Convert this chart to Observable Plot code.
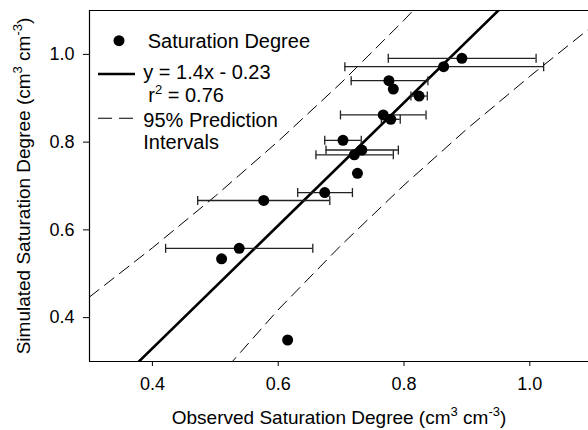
<!DOCTYPE html>
<html><head><meta charset="utf-8">
<script src="https://cdn.jsdelivr.net/npm/d3@7"></script>
<script src="https://cdn.jsdelivr.net/npm/@observablehq/plot@0.6"></script>
<style>
body{margin:0;background:#fff}
svg{font-family:"Liberation Sans",Arial,Helvetica,sans-serif}
</style>
</head><body><div id="chart"></div>
<script>
// Observed (x) and simulated (y) saturation degree
const observed  = [0.892,0.863,0.776,0.783,0.824,0.767,0.779,0.703,0.733,0.721,0.726,0.674,0.577,0.538,0.510,0.615];
const simulated = [0.991,0.972,0.940,0.921,0.905,0.862,0.852,0.804,0.782,0.771,0.729,0.685,0.667,0.558,0.534,0.349];
// horizontal error bar extents (null = no bar)
const errLow  = [0.775,0.706,0.716,null,0.811,0.699,0.764,0.674,0.676,0.660,null,0.631,0.472,0.421,null,null];
const errHigh = [1.010,1.022,0.838,null,0.837,0.835,0.794,0.732,0.791,0.783,null,0.718,0.682,0.655,null,null];
// fitted line y = 1.4x - 0.23
const fitX = [0.30, 1.10];
const fitY = [0.19, 1.31];
// 95% prediction interval curves
const upperX = [0.30, 0.40, 0.50, 0.60, 0.70, 0.80, 0.90];
const upperY = [0.447,0.559,0.677,0.802,0.935,1.078,1.23];
const lowerX = [0.50, 0.60, 0.70, 0.80, 0.90, 1.00, 1.10];
const lowerY = [0.256,0.418,0.565,0.702,0.830,0.950,1.065];
const xTicks = [0.4, 0.6, 0.8, 1.0];
const yTicks = [0.4, 0.6, 0.8, 1.0];
const legendLabels = ["Saturation Degree", "y = 1.4x - 0.23", "r", "2", " = 0.76", "95% Prediction", "Intervals"];

const points = observed.map((x, i) => ({x, y: simulated[i], lo: errLow[i], hi: errHigh[i]}));
const bars = points.filter(d => d.lo != null);
const caps = bars.flatMap(d => [{x: d.lo, y: d.y}, {x: d.hi, y: d.y}]);
const fit = fitX.map((x, i) => ({x, y: fitY[i]}));
const upper = upperX.map((x, i) => ({x, y: upperY[i]}));
const lower = lowerX.map((x, i) => ({x, y: lowerY[i]}));

const capSymbol = {draw(ctx, size) { const h = Math.sqrt(size / Math.PI); ctx.moveTo(0, -h); ctx.lineTo(0, h); }};
const fmt = d3.format(".1f");

const chart = Plot.plot({
  width: 588, height: 430,
  marginLeft: 89, marginRight: 0, marginTop: 10, marginBottom: 69,
  style: {fontFamily: '"Liberation Sans",Arial,sans-serif', background: "white"},
  x: {domain: [0.3, 1.0933]},
  y: {domain: [0.3, 1.1]},
  marks: [
    Plot.line(upper, {x: "x", y: "y", stroke: "black", strokeWidth: 1, strokeDasharray: "12,7", clip: true}),
    Plot.line(lower, {x: "x", y: "y", stroke: "black", strokeWidth: 1, strokeDasharray: "12,7", clip: true}),
    Plot.line(fit, {x: "x", y: "y", stroke: "black", strokeWidth: 2.6, clip: true}),
    Plot.ruleY(bars, {x1: "lo", x2: "hi", y: "y", stroke: "#222", strokeWidth: 1.3}),
    Plot.dot(caps, {x: "x", y: "y", symbol: capSymbol, r: 4.5, fill: "none", stroke: "#222", strokeWidth: 1.3}),
    Plot.dot(points, {x: "x", y: "y", r: 5.5, fill: "black", stroke: "none"}),
    Plot.ruleX([0.3], {stroke: "black", strokeWidth: 1.2}),
    Plot.ruleY([0.3, 1.1], {stroke: "black", strokeWidth: 1.2}),
    Plot.axisX(xTicks, {tickSize: 5, tickPadding: 11, tickFormat: fmt, fontSize: 18, label: null, stroke: "black"}),
    Plot.axisY(yTicks, {tickSize: 6, tickPadding: 9, tickFormat: fmt, fontSize: 18, label: null, stroke: "black"})
  ]
});
document.getElementById("chart").appendChild(chart);

const svg = d3.select(chart);
// axis labels with superscripts
const xl = svg.append("text").attr("x", 339).attr("y", 423.5).attr("text-anchor", "middle")
  .attr("font-size", 19).attr("fill", "black");
xl.append("tspan").text("Observed Saturation Degree (cm");
xl.append("tspan").attr("dy", -8).attr("font-size", 13).text("3");
xl.append("tspan").attr("dy", 8).text(" cm");
xl.append("tspan").attr("dy", -8).attr("font-size", 13).text("-3");
xl.append("tspan").attr("dy", 8).text(")");

const yl = svg.append("text").attr("transform", "translate(30,186) rotate(-90)").attr("text-anchor", "middle")
  .attr("font-size", 19).attr("fill", "black");
yl.append("tspan").text("Simulated Saturation Degree (cm");
yl.append("tspan").attr("dy", -8).attr("font-size", 13).text("3");
yl.append("tspan").attr("dy", 8).text(" cm");
yl.append("tspan").attr("dy", -8).attr("font-size", 13).text("-3");
yl.append("tspan").attr("dy", 8).text(")");

// legend
const lg = svg.append("g").attr("font-size", 20).attr("fill", "black").attr("text-anchor", "start");
lg.append("circle").attr("cx", 119).attr("cy", 40.7).attr("r", 5.5).attr("fill", "black");
lg.append("text").attr("x", 147.7).attr("y", 47.5).text(legendLabels[0]);
lg.append("line").attr("x1", 98).attr("x2", 135).attr("y1", 74).attr("y2", 74).attr("stroke", "black").attr("stroke-width", 2.6);
lg.append("text").attr("x", 143.3).attr("y", 79.3).text(legendLabels[1]);
const rt = lg.append("text").attr("x", 148.3).attr("y", 101.7);
rt.append("tspan").text(legendLabels[2]);
rt.append("tspan").attr("dy", -8).attr("font-size", 13).text(legendLabels[3]);
rt.append("tspan").attr("dy", 8).text(legendLabels[4]);
lg.append("line").attr("x1", 98).attr("x2", 133).attr("y1", 118.3).attr("y2", 118.3).attr("stroke", "black")
  .attr("stroke-width", 1.1).attr("stroke-dasharray", "14,7");
lg.append("text").attr("x", 143.3).attr("y", 126.7).text(legendLabels[5]);
lg.append("text").attr("x", 143.3).attr("y", 149).text(legendLabels[6]);
</script>
</body></html>
